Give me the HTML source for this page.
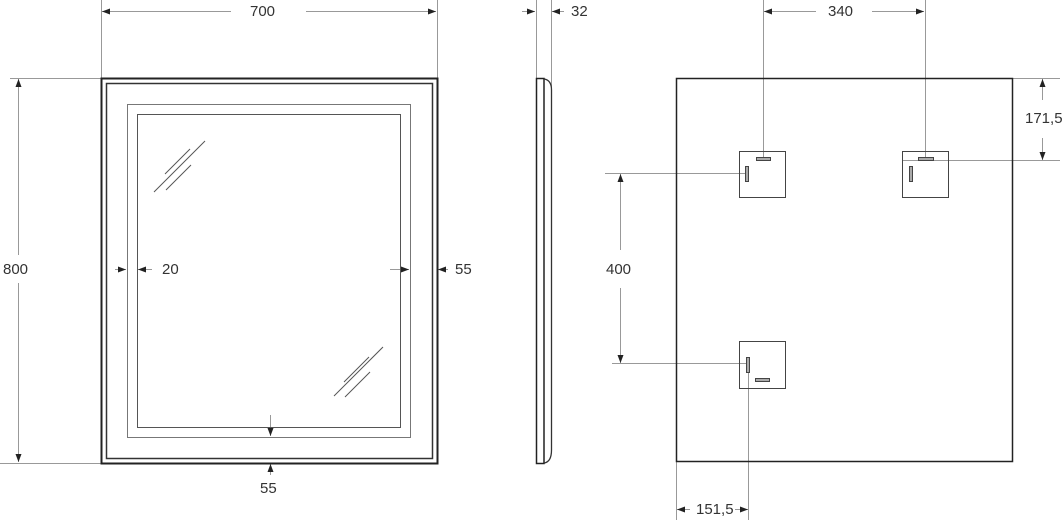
<!DOCTYPE html>
<html><head><meta charset="utf-8"><style>
html,body{margin:0;padding:0;background:#fff;}
svg{display:block;}
text{font-family:"Liberation Sans",sans-serif;font-size:15px;fill:#333;}
</style></head><body>
<svg width="1063" height="520" viewBox="0 0 1063 520" xmlns="http://www.w3.org/2000/svg">
<defs>
<marker id="a" viewBox="0 0 8 6" refX="8" refY="3" markerWidth="8" markerHeight="6" orient="auto-start-reverse" markerUnits="userSpaceOnUse"><path d="M0,0 L8,3 L0,6z" fill="#222"/></marker>
</defs>
<g stroke="#999" stroke-width="1" fill="none">
<!-- 700 -->
<line x1="101.5" y1="0" x2="101.5" y2="78"/><line x1="437.5" y1="0" x2="437.5" y2="78"/>
<line x1="102" y1="11.5" x2="231" y2="11.5" marker-start="url(#a)"/>
<line x1="306" y1="11.5" x2="436" y2="11.5" marker-end="url(#a)"/>
<!-- 800 -->
<line x1="10" y1="78.5" x2="101" y2="78.5"/><line x1="0" y1="463.5" x2="101" y2="463.5"/>
<line x1="18.5" y1="79" x2="18.5" y2="255" marker-start="url(#a)"/>
<line x1="18.5" y1="283" x2="18.5" y2="462" marker-end="url(#a)"/>
<!-- 20 -->
<line x1="115" y1="269.5" x2="126" y2="269.5" marker-end="url(#a)"/>
<line x1="152" y1="269.5" x2="138" y2="269.5" marker-end="url(#a)"/>
<!-- 55 right -->
<line x1="390" y1="269.5" x2="409" y2="269.5" marker-end="url(#a)"/>
<line x1="448" y1="269.5" x2="438" y2="269.5" marker-end="url(#a)"/>
<!-- 55 bottom -->
<line x1="270.5" y1="415" x2="270.5" y2="436" marker-end="url(#a)"/>
<line x1="270.5" y1="475" x2="270.5" y2="464" marker-end="url(#a)"/>
<!-- 32 -->
<line x1="536.5" y1="0" x2="536.5" y2="78"/><line x1="551.5" y1="0" x2="551.5" y2="88"/>
<line x1="522" y1="11.5" x2="535" y2="11.5" marker-end="url(#a)"/>
<line x1="564" y1="11.5" x2="552" y2="11.5" marker-end="url(#a)"/>
<!-- 340 -->
<line x1="763.5" y1="0" x2="763.5" y2="160"/><line x1="925.5" y1="0" x2="925.5" y2="160"/>
<line x1="764" y1="11.5" x2="816" y2="11.5" marker-start="url(#a)"/>
<line x1="872" y1="11.5" x2="924" y2="11.5" marker-end="url(#a)"/>
<!-- 171,5 -->
<line x1="1013" y1="78.5" x2="1060" y2="78.5"/><line x1="903" y1="160.5" x2="1060" y2="160.5"/>
<line x1="1042.5" y1="79" x2="1042.5" y2="100" marker-start="url(#a)"/>
<line x1="1042.5" y1="138" x2="1042.5" y2="160" marker-end="url(#a)"/>
<!-- 400 -->
<line x1="605" y1="173.5" x2="747" y2="173.5"/><line x1="612" y1="363.5" x2="748" y2="363.5"/>
<line x1="620.5" y1="174" x2="620.5" y2="250" marker-start="url(#a)"/>
<line x1="620.5" y1="288" x2="620.5" y2="363" marker-end="url(#a)"/>
<!-- 151,5 -->
<line x1="676.5" y1="462" x2="676.5" y2="520"/><line x1="748.5" y1="360" x2="748.5" y2="520"/>
<line x1="677" y1="509.5" x2="690" y2="509.5" marker-start="url(#a)"/>
<line x1="735" y1="509.5" x2="748" y2="509.5" marker-end="url(#a)"/>
</g>
<!-- front view -->
<g fill="none">
<rect x="101.5" y="78.5" width="336" height="385" stroke="#222" stroke-width="2"/>
<rect x="106.5" y="83.5" width="326" height="375" stroke="#333" stroke-width="1.5"/>
<rect x="127.5" y="104.5" width="283" height="333" stroke="#777" stroke-width="1"/>
<rect x="137.5" y="114.5" width="263" height="313" stroke="#555" stroke-width="1"/>
<g stroke="#555" stroke-width="1">
<line x1="154" y1="192" x2="205" y2="141"/><line x1="165" y1="174" x2="190" y2="149"/><line x1="166" y1="190" x2="191" y2="165"/>
<line x1="334" y1="396" x2="383" y2="347"/><line x1="344" y1="382" x2="369" y2="357"/><line x1="345" y1="397" x2="370" y2="372"/>
</g>
<!-- side -->
<path d="M536.5,78.5 H544 V463.5 H536.5 Z" stroke="#222" stroke-width="1.5"/>
<path d="M544,79 Q551.5,80 551.5,90 V450 Q551.5,462 544,463" stroke="#333" stroke-width="1.3"/>
<!-- back -->
<rect x="676.5" y="78.5" width="336" height="383" stroke="#222" stroke-width="1.5"/>
<g stroke="#444" stroke-width="1">
<rect x="739.5" y="151.5" width="46" height="46"/>
<rect x="902.5" y="151.5" width="46" height="46"/>
<rect x="739.5" y="341.5" width="46" height="47"/>
<rect x="756.5" y="157.5" width="14" height="3" fill="#aaa"/>
<rect x="918.5" y="157.5" width="15" height="3" fill="#aaa"/>
<rect x="745.5" y="166.5" width="3" height="15" fill="#aaa"/>
<rect x="909.5" y="166.5" width="3" height="15" fill="#aaa"/>
<rect x="746.5" y="357.5" width="3" height="15" fill="#aaa"/>
<rect x="755.5" y="378.5" width="14" height="3" fill="#aaa"/>
</g>
</g>
<text x="250" y="16">700</text>
<text x="3" y="274">800</text>
<text x="162" y="274">20</text>
<text x="455" y="274">55</text>
<text x="260" y="493">55</text>
<text x="571" y="16">32</text>
<text x="828" y="16">340</text>
<text x="1025" y="123">171,5</text>
<text x="606" y="274">400</text>
<text x="696" y="514">151,5</text>
</svg>
</body></html>
